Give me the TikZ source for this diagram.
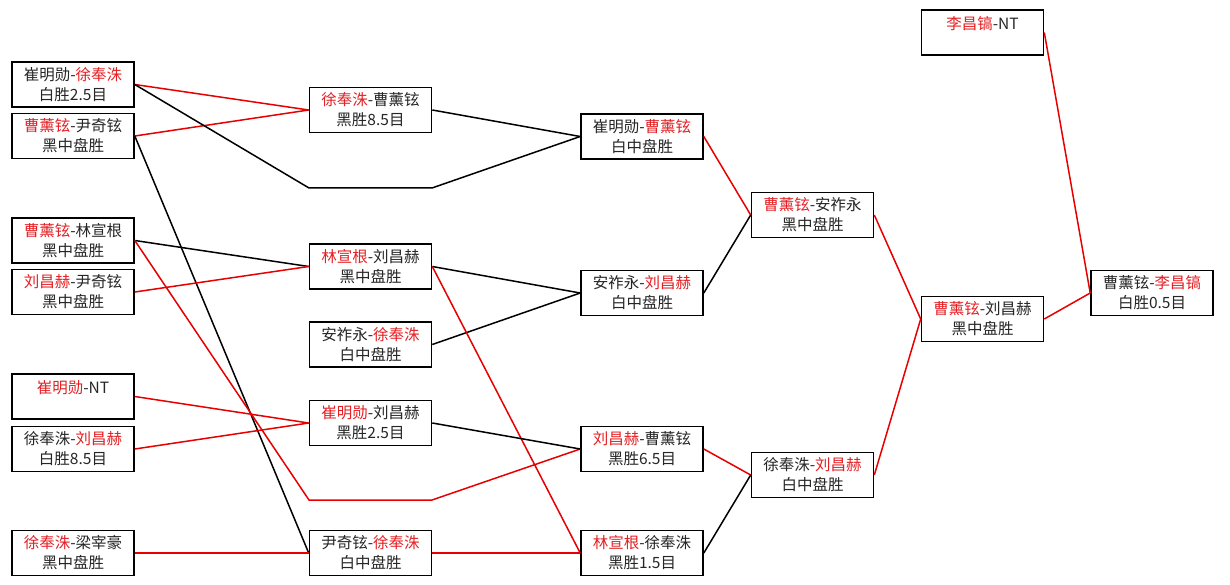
\documentclass[tikz,border=0pt]{standalone}
\usepackage{fontspec}
\setmainfont{Noto Sans CJK SC}
\definecolor{txtred}{RGB}{228,32,36}
\definecolor{linered}{RGB}{232,0,0}
\newcommand{\hong}[1]{\textcolor{txtred}{#1}}
\begin{document}
\begin{tikzpicture}[x=1pt,y=-1pt,
    game/.style={draw,line width=1.6pt,fill=white,minimum width=122pt,minimum height=45pt,
      inner sep=0pt,align=center,font=\fontsize{15.5}{20}\selectfont,text=black!85},
    win/.style={linered,line width=1.5pt},
    lose/.style={black,line width=1.5pt}]
  \useasboundingbox[fill=white] (0,0) rectangle (1230,585);
  % 第一轮
  \node[game] (a1) at (73,84.5) {崔明勋-\hong{徐奉洙}\\白胜2.5目};
  \node[game] (a2) at (73,136) {\hong{曹薰铉}-尹奇铉\\黑中盘胜};
  \node[game] (a3) at (73,240.5) {\hong{曹薰铉}-林宣根\\黑中盘胜};
  \node[game] (a4) at (73,292) {\hong{刘昌赫}-尹奇铉\\黑中盘胜};
  \node[game] (a5) at (73,396.5) {\hong{崔明勋}-NT\\~};
  \node[game] (a6) at (73,449) {徐奉洙-\hong{刘昌赫}\\白胜8.5目};
  \node[game] (a7) at (73,553) {\hong{徐奉洙}-梁宰豪\\黑中盘胜};
  % 第二轮
  \node[game] (b1) at (370.5,110) {\hong{徐奉洙}-曹薰铉\\黑胜8.5目};
  \node[game] (b2) at (370.5,266.5) {\hong{林宣根}-刘昌赫\\黑中盘胜};
  \node[game] (b3) at (370.5,344.5) {安祚永-\hong{徐奉洙}\\白中盘胜};
  \node[game] (b4) at (370.5,423) {\hong{崔明勋}-刘昌赫\\黑胜2.5目};
  \node[game] (b5) at (370.5,553) {尹奇铉-\hong{徐奉洙}\\白中盘胜};
  % 第三轮
  \node[game] (c1) at (642,136.5) {崔明勋-\hong{曹薰铉}\\白中盘胜};
  \node[game] (c2) at (642,293) {安祚永-\hong{刘昌赫}\\白中盘胜};
  \node[game] (c3) at (642,449) {\hong{刘昌赫}-曹薰铉\\黑胜6.5目};
  \node[game] (c4) at (642,553) {\hong{林宣根}-徐奉洙\\黑胜1.5目};
  % 第四轮
  \node[game] (d1) at (812.5,215) {\hong{曹薰铉}-安祚永\\黑中盘胜};
  \node[game] (d2) at (812.5,475) {徐奉洙-\hong{刘昌赫}\\白中盘胜};
  % 决赛
  \node[game] (e0) at (982.5,32.5) {\hong{李昌镐}-NT\\~};
  \node[game] (e1) at (982.5,319) {\hong{曹薰铉}-刘昌赫\\黑中盘胜};
  \node[game] (f) at (1152,293) {曹薰铉-\hong{李昌镐}\\白胜0.5目};
  % 折线拐点
  \coordinate (k1) at (309,188);
  \coordinate (k2) at (432,188);
  \coordinate (k3) at (309,500);
  \coordinate (k4) at (432,500);
  % 连线
  \draw[win] (a1.east) -- (b1.west);
  \draw[win] (a2.east) -- (b1.west);
  \draw[lose] (a1.east) -- (k1) -- (k2) -- (c1.west);
  \draw[lose] (b1.east) -- (c1.west);
  \draw[lose] (a2.east) -- (b5.west);
  \draw[lose] (a3.east) -- (b2.west);
  \draw[win] (a4.east) -- (b2.west);
  \draw[win] (a3.east) -- (k3) -- (k4) -- (c3.west);
  \draw[lose] (b2.east) -- (c2.west);
  \draw[lose] (b3.east) -- (c2.west);
  \draw[win] (b2.east) -- (c4.west);
  \draw[win] (a5.east) -- (b4.west);
  \draw[win] (a6.east) -- (b4.west);
  \draw[win] (a7.east) -- (b5.west);
  \draw[lose] (b4.east) -- (c3.west);
  \draw[win] (b5.east) -- (c4.west);
  \draw[win] (c1.east) -- (d1.west);
  \draw[lose] (c2.east) -- (d1.west);
  \draw[win] (c3.east) -- (d2.west);
  \draw[lose] (c4.east) -- (d2.west);
  \draw[win] (d1.east) -- (e1.west);
  \draw[win] (d2.east) -- (e1.west);
  \draw[win] (e0.east) -- (f.west);
  \draw[win] (e1.east) -- (f.west);
\end{tikzpicture}
\end{document}
